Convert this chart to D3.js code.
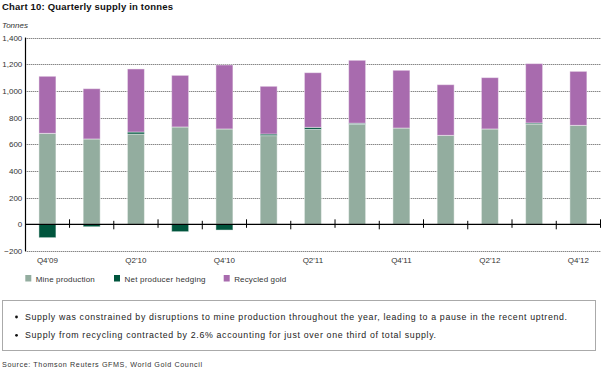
<!DOCTYPE html>
<html>
<head>
<meta charset="utf-8">
<script src="https://cdn.jsdelivr.net/npm/d3@7"></script>
<style>
  html, body { margin: 0; padding: 0; background: #fff; }
  svg { display: block; font-family: "Liberation Sans", Arial, sans-serif; }
</style>
</head>
<body>
<svg id="chart" width="602" height="370"></svg>
<script>
const quarters = ["Q4'09","Q1'10","Q2'10","Q3'10","Q4'10","Q1'11","Q2'11","Q3'11","Q4'11","Q1'12","Q2'12","Q3'12","Q4'12"];
const tickLabels = ["Q4'09","Q2'10","Q4'10","Q2'11","Q4'11","Q2'12","Q4'12"];
const mineProduction = [682, 640, 677, 730, 715, 665, 712, 750, 722, 667, 715, 752, 742];
const netHedging     = [-100, -18, 15, -55, -43, 12, 15, 8, -5, -5, -5, 8, -5];
const recycledGold   = [428, 377, 473, 387, 480, 358, 410, 472, 433, 380, 385, 445, 405];
const seriesNames = ["Mine production", "Net producer hedging", "Recycled gold"];
const seriesKeys = ["mine", "hedge", "recycled"];
const seriesColors = ["#93ad9f", "#00553d", "#a86bae"];
const yTicks = [-200, 0, 200, 400, 600, 800, 1000, 1200, 1400];
const bullets = [
  "Supply was constrained by disruptions to mine production throughout the year, leading to a pause in the recent uptrend.",
  "Supply from recycling contracted by 2.6% accounting for just over one third of total supply."
];

const svg = d3.select("#chart");
const x0 = 25.3, x1 = 600.5, yTop = 37.6, yBot = 251;

const x = d3.scaleBand().domain(quarters).range([x0, x1]).paddingInner(0.616).paddingOuter(0.308);
const y = d3.scaleLinear().domain([-200, 1400]).range([yBot, yTop]);

const rows = quarters.map((q, i) => ({ q, mine: mineProduction[i], hedge: netHedging[i], recycled: recycledGold[i] }));
const stack = d3.stack().keys(seriesKeys).offset(d3.stackOffsetDiverging);
const stacked = stack(rows);

// Title
svg.append("text").attr("x", 2).attr("y", 10).attr("font-size", 9.5).attr("font-weight", "bold").attr("fill", "#111")
  .attr("textLength", 171).attr("lengthAdjust", "spacing")
  .text("Chart 10: Quarterly supply in tonnes");
svg.append("text").attr("x", 2).attr("y", 28).attr("font-size", 8).attr("font-style", "italic").attr("fill", "#333")
  .attr("textLength", 26).attr("lengthAdjust", "spacing")
  .text("Tonnes");

// Grid lines
svg.append("g").selectAll("line").data(yTicks.filter(v => v !== 0)).join("line")
  .attr("x1", x0).attr("x2", x1)
  .attr("y1", d => Math.round(y(d)) + 0.5).attr("y2", d => Math.round(y(d)) + 0.5)
  .attr("stroke", "#555").attr("stroke-width", 1).attr("stroke-dasharray", "1,1");

// Y axis labels
const yAxis = d3.axisLeft(y).tickValues(yTicks).tickSize(0).tickPadding(3).tickFormat(d3.format(","));
const yg = svg.append("g").attr("transform", `translate(${x0},0)`).call(yAxis);
yg.select(".domain").remove();
yg.selectAll("text").attr("font-size", 8).attr("fill", "#333").attr("font-family", "Liberation Sans, Arial, sans-serif");

// Bars
svg.append("g").selectAll("g").data(stacked).join("g")
  .attr("fill", (d, i) => seriesColors[i])
  .selectAll("rect").data(d => d).join("rect")
  .attr("x", d => x(d.data.q))
  .attr("width", x.bandwidth())
  .attr("y", d => y(Math.max(d[0], d[1])))
  .attr("height", d => Math.abs(y(d[0]) - y(d[1])))
  .attr("stroke", "rgba(255,255,255,0.45)").attr("stroke-width", 1);

// Left axis line
svg.append("line").attr("x1", Math.round(x0) + 0.5).attr("x2", Math.round(x0) + 0.5)
  .attr("y1", yTop).attr("y2", yBot).attr("stroke", "#000").attr("stroke-width", 1.2);

// Zero line
svg.append("line").attr("x1", x0).attr("x2", x1).attr("y1", y(0)).attr("y2", y(0))
  .attr("stroke", "#000").attr("stroke-width", 1.2);

// Category boundary ticks
const step = x.step();
svg.append("g").selectAll("line").data(quarters).join("line")
  .attr("x1", d => x(d) - x.paddingOuter() * step + step)
  .attr("x2", d => x(d) - x.paddingOuter() * step + step)
  .attr("y1", (d, i) => y(0) - (i % 2 ? 3.5 : 5))
  .attr("y2", (d, i) => y(0) + (i % 2 ? 5 : 3.5))
  .attr("stroke", "#000").attr("stroke-width", 1);

// X labels
const xAxis = d3.axisBottom(x).tickValues(tickLabels).tickSize(0).tickPadding(0);
const xg = svg.append("g").attr("transform", `translate(0,${yBot + 6})`).call(xAxis);
xg.select(".domain").remove();
xg.selectAll("text").attr("font-size", 8).attr("fill", "#333").attr("font-family", "Liberation Sans, Arial, sans-serif");

// Legend
const legendX = [25.3, 114, 223.7];
const legendW = [59, 81, 52];
const lg = svg.append("g").selectAll("g").data(seriesNames).join("g")
  .attr("transform", (d, i) => `translate(${legendX[i]},275)`);
lg.append("rect").attr("width", 6).attr("height", 6.5).attr("fill", (d, i) => seriesColors[i]);
lg.append("text").attr("x", 10.5).attr("y", 6.5).attr("font-size", 8).attr("fill", "#333")
  .attr("textLength", (d, i) => legendW[i]).attr("lengthAdjust", "spacing").text(d => d);

// Text box
const bulletW = [542, 411];
svg.append("rect").attr("x", 2.5).attr("y", 300.5).attr("width", 593).attr("height", 50)
  .attr("fill", "none").attr("stroke", "#aaa").attr("stroke-width", 1);
const bl = svg.append("g").selectAll("g").data(bullets).join("g")
  .attr("transform", (d, i) => `translate(0,${320 + i * 18.3})`);
bl.append("circle").attr("cx", 16.5).attr("cy", -3).attr("r", 1.4).attr("fill", "#111");
bl.append("text").attr("x", 25).attr("y", 0).attr("font-size", 8.8).attr("fill", "#222")
  .attr("textLength", (d, i) => bulletW[i]).attr("lengthAdjust", "spacing").text(d => d);

// Source
svg.append("text").attr("x", 2).attr("y", 366.5).attr("font-size", 7.2).attr("fill", "#333")
  .attr("textLength", 200).attr("lengthAdjust", "spacing")
  .text("Source: Thomson Reuters GFMS, World Gold Council");
</script>
</body>
</html>
